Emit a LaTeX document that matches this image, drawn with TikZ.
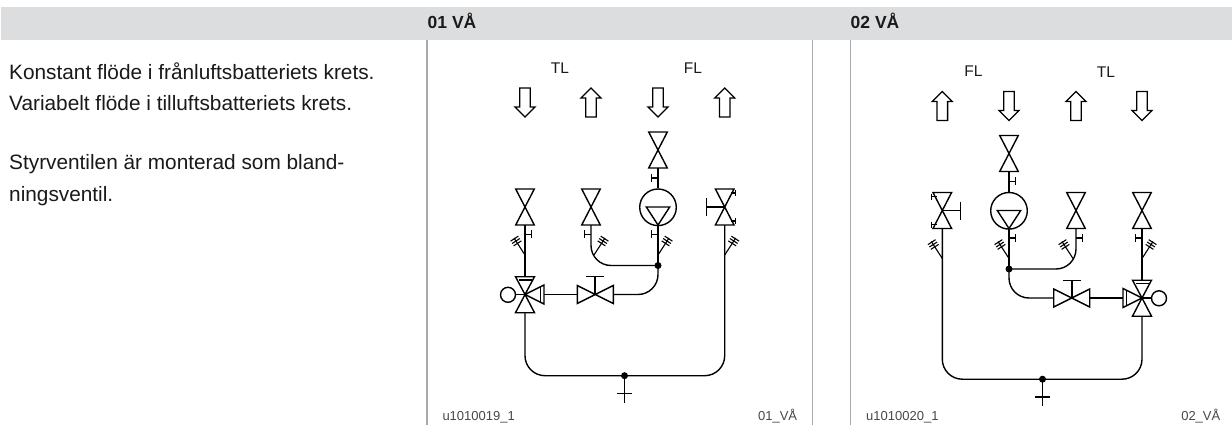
\documentclass[tikz,border=0pt]{standalone}
\usepackage{fontspec}
\setmainfont{Liberation Sans}
\definecolor{band}{HTML}{DCDDDF}
\definecolor{rule}{HTML}{A9A9A9}
\definecolor{ink}{HTML}{1A1A1A}
\tikzset{
  pipe/.style={draw=black,line width=1.4pt,line join=miter},
  blob/.style={circle,fill=black,inner sep=0pt,minimum size=7pt},
  bodytext/.style={anchor=base west,inner sep=0pt,text=ink,font=\fontsize{20.8}{21}\selectfont},
  headtext/.style={anchor=base west,inner sep=0pt,text=ink,font=\fontsize{17.5}{18}\selectfont\bfseries},
  airtext/.style={inner sep=0pt,text=ink,font=\fontsize{15.5}{16}\selectfont},
  foottext/.style={inner sep=0pt,text=ink!80,font=\fontsize{13}{14}\selectfont},
}
% valve with vertical axis
\newcommand{\vvalve}[2]{\draw[pipe] (#1-9.3,#2-18)--(#1+9.3,#2-18)--(#1-9.3,#2+18)--(#1+9.3,#2+18)--cycle;}
% arrows
\newcommand{\downarr}[1]{\draw[pipe,line width=1.3pt] (#1-5.3,88)--(#1+5.3,88)--(#1+5.3,107)--(#1+10,107)--(#1,117)--(#1-10,107)--(#1-5.3,107)--cycle;}
\newcommand{\uparr}[1]{\draw[pipe,line width=1.3pt] (#1-5.3,117)--(#1+5.3,117)--(#1+5.3,98)--(#1+10,98)--(#1,88)--(#1-10,98)--(#1-5.3,98)--cycle;}
% short capped tick: x y direction
\newcommand{\captick}[3]{\draw[pipe] (#1,#2)--(#1+#3*6.5,#2) (#1+#3*6.5,#2-4)--(#1+#3*6.5,#2+4);}
% hatched branch: start x, start y, direction
\newcommand{\hatched}[3]{%
  \draw[pipe,line width=1.1pt] (#1,#2)--(#1+#3*11,#2-17);
  \foreach \k in {0.8,3.6,6.4}{
    \draw[pipe,line width=1.1pt] ({#1+#3*(11-.54*\k+4.6*.84)},{#2-17+.84*\k+4.6*.54})--({#1+#3*(11-.54*\k-4.6*.84)},{#2-17+.84*\k-4.6*.54});
  }}
% one schematic
\newcommand{\schem}[1]{%
  \downarr{525}\uparr{591}\downarr{658}\uparr{724.7}
  \coordinate (#1jr) at (658,265.5);
  \coordinate (#1jb) at (624.5,375.7);
  \coordinate (#1pt) at (658,168);
  \coordinate (#1pb) at (658,225);
  \coordinate (#1a) at (525,225);
  \coordinate (#1at) at (525,276.7);
  \coordinate (#1ab) at (525,312.7);
  \coordinate (#1b) at (591,225);
  \coordinate (#1d) at (724.7,225);
  \coordinate (#1gr) at (613.3,294.5);
  \coordinate (#1gl) at (577.3,294.5);
  \coordinate (#1ms) at (544,294.5);
  \coordinate (#1end) at (624.5,402.7);
  % valves
  \vvalve{658}{150}\vvalve{525}{207}\vvalve{591}{207}\vvalve{724.7}{207}
  % pump
  \node[pipe,circle,minimum size=36.6pt,inner sep=0pt] (#1pump) at (658,207.3) {};
  \draw[pipe] (646.3,207)--(669.7,207)--(658,225)--cycle;
  \draw[pipe] (#1pt)--(#1pump);
  \draw[pipe] (#1pb)--(#1jr);
  % pipes
  \draw[pipe] (#1a)--(#1at);
  \draw[pipe,rounded corners=20pt] (#1b)|-(#1jr);
  \draw[pipe,rounded corners=20pt] (#1jr)|-(#1gr);
  \draw[pipe] (#1gl)--(#1ms);
  \draw[pipe,rounded corners=20pt] (#1ab)|-(#1jb)-|(#1d);
  \draw[pipe] (#1jb)--(#1end);
  \draw[pipe] (617,393.3)--(632,393.3);
  \node[blob] (#1dot1) at (#1jr) {};
  \node[blob] (#1dot2) at (#1jb) {};
  % ticks and hatches
  \captick{658}{178}{-1}
  \captick{525}{234.3}{1}
  \captick{591}{234.3}{-1}
  \captick{658}{234.3}{-1}
  \hatched{525}{255}{-1}
  \hatched{594}{255}{1}
  \hatched{658}{255}{1}
  \hatched{724.7}{255}{1}
  % balancing valve handle
  \draw[pipe] (724.7,207)--(706.7,207) (706.7,198)--(706.7,216);
  \draw[pipe] (730.5,193)--(735.5,193) (735.5,190)--(735.5,196);
  \draw[pipe] (730.5,221)--(735.5,221) (735.5,218)--(735.5,224);
  % gate valve
  \draw[pipe] (577.3,285.5)--(613.3,303.5)--(613.3,285.5)--(577.3,303.5)--cycle;
  \draw[pipe] (595,294.5)--(595,276.7) (586,276.7)--(604,276.7);
  % mixing valve
  \draw[pipe] (525,294.5)--(515.5,276.7)--(534.5,276.7)--cycle;
  \draw[pipe] (518.5,280)--(531.5,280);
  \draw[pipe] (525,294.5)--(515.5,312.7)--(534.5,312.7)--cycle;
  \draw[pipe] (525,294.5)--(544,285)--(544,304)--cycle;
  \draw[pipe] (540.5,287)--(540.5,302);
  \draw[pipe] (525,294.5)--(515.5,294.5);
  \draw[pipe] (508,294.8) circle (7.5);
  \fill (525,294.5) circle (1.7);
}
\begin{document}
\begin{tikzpicture}[x=1pt,y=-1pt]
  \useasboundingbox (0,0) rectangle (1232,425);
  \fill[white] (0,0) rectangle (1232,425);
  \fill[band] (1,6.7) rectangle (1232,40);
  \draw[rule,line width=1.1pt] (427,40)--(427,425);
  \draw[rule,line width=1.1pt] (812.5,40)--(812.5,425);
  \draw[rule,line width=1.1pt] (850.5,40)--(850.5,425);
  \node[headtext] (h1) at (427.5,29) {01 VÅ};
  \node[headtext] (h2) at (850.5,29) {02 VÅ};
  \node[bodytext] (t1) at (9,79.7) {Konstant flöde i frånluftsbatteriets krets.};
  \node[bodytext] (t2) at (9,110.8) {Variabelt flöde i tilluftsbatteriets krets.};
  \node[bodytext] (t3) at (9,170) {Styrventilen är monterad som bland-};
  \node[bodytext] (t4) at (9,201) {ningsventil.};
  \node[airtext] (tl1) at (560,68) {TL};
  \node[airtext] (fl1) at (693,68) {FL};
  \node[airtext] (fl2) at (973.5,71) {FL};
  \node[airtext] (tl2) at (1106,72.5) {TL};
  \node[foottext,anchor=base west] (f1) at (442.3,420) {u1010019\_1};
  \node[foottext,anchor=base east] (f2) at (797.3,420) {01\_VÅ};
  \node[foottext,anchor=base west] (f3) at (866,420) {u1010020\_1};
  \node[foottext,anchor=base east] (f4) at (1220.5,420) {02\_VÅ};
  \begin{scope}
    \schem{L}
  \end{scope}
  \begin{scope}[xshift=1667pt,xscale=-1,yshift=-3.5pt]
    \schem{R}
  \end{scope}
\end{tikzpicture}
\end{document}
